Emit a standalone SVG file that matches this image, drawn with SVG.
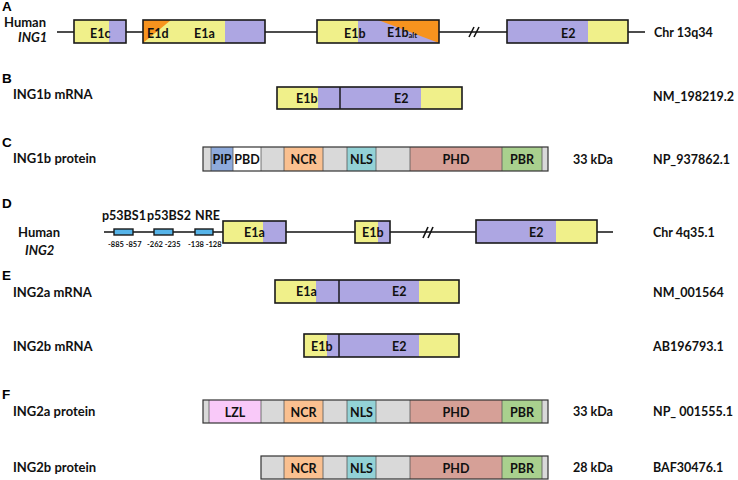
<svg xmlns="http://www.w3.org/2000/svg" width="738" height="480" viewBox="0 0 738 480">
<style>
.t{font-family:Lato,"Liberation Sans",sans-serif;font-weight:bold;font-size:12.5px;fill:#111}
.l{font-family:Lato,"Liberation Sans",sans-serif;font-weight:bold;font-size:13px;fill:#111}
.h{font-family:"Liberation Sans",Arial,sans-serif;font-weight:bold;font-size:13.5px;fill:#000}
.s{font-family:Lato,"Liberation Sans",sans-serif;font-weight:bold;font-size:7.5px;fill:#111}
.m{text-anchor:middle}
.y{fill:#f0f08a}
.p{fill:#ada6e2}
.o{fill:#f7931e}
.g{fill:#d9d9d9}
.box{fill:none;stroke:#1a1a1a;stroke-width:1.6}
.pb{fill:none;stroke:#333;stroke-width:1.2}
.sep{stroke:#555;stroke-width:0.8}
.ln{stroke:#111;stroke-width:1.6;fill:none}
.div{stroke:#111;stroke-width:1.4}
.bs{fill:#56b4e9;stroke:#1a1a1a;stroke-width:1.4}
</style>

<!-- connectors: genomic lines and break marks -->
<g id="connectors">
  <line class="ln" x1="57" y1="32" x2="645" y2="32"/>
  <line class="ln" x1="469" y1="37" x2="474" y2="27"/>
  <line class="ln" x1="474" y1="37" x2="479" y2="27"/>
  <line class="ln" x1="104" y1="232" x2="613" y2="232"/>
  <line class="ln" x1="423" y1="238" x2="428" y2="227"/>
  <line class="ln" x1="428" y1="238" x2="433" y2="227"/>
</g>

<!-- panel letters and row labels -->
<g id="labels">
  <text class="h" x="2" y="10.5">A</text>
  <text class="h" x="2" y="83">B</text>
  <text class="h" x="2" y="147">C</text>
  <text class="h" x="2" y="208">D</text>
  <text class="h" x="2" y="280">E</text>
  <text class="h" x="2" y="399">F</text>
  <text class="l" x="4" y="26.5">Human</text>
  <text class="l" x="18" y="42" font-style="italic">ING1</text>
  <text class="l" x="13" y="99">ING1b mRNA</text>
  <text class="l" x="13" y="163">ING1b protein</text>
  <text class="l" x="18" y="237">Human</text>
  <text class="l" x="25" y="255" font-style="italic">ING2</text>
  <text class="l" x="13" y="297">ING2a mRNA</text>
  <text class="l" x="13" y="351">ING2b mRNA</text>
  <text class="l" x="13" y="416">ING2a protein</text>
  <text class="l" x="13" y="472">ING2b protein</text>
  <text class="t" x="654" y="37">Chr 13q34</text>
  <text class="t" x="653" y="101">NM_198219.2</text>
  <text class="t" x="573" y="164">33 kDa</text>
  <text class="t" x="653" y="164">NP_937862.1</text>
  <text class="t" x="653" y="237">Chr 4q35.1</text>
  <text class="t" x="653" y="297">NM_001564</text>
  <text class="t" x="653" y="351">AB196793.1</text>
  <text class="t" x="573" y="416">33 kDa</text>
  <text class="t" x="653" y="416">NP_ 001555.1</text>
  <text class="t" x="573" y="472">28 kDa</text>
  <text class="t" x="653" y="472">BAF30476.1</text>
</g>

<!-- A: ING1 gene -->
<g id="ing1-e1c">
  <rect class="y" x="74" y="20" width="35" height="23"/>
  <rect class="p" x="109" y="20" width="17" height="23"/>
  <rect class="box" x="74" y="20" width="52" height="23"/>
  <text class="t" x="90" y="37.5">E1c</text>
</g>
<g id="ing1-e1d-e1a">
  <rect class="y" x="143" y="20" width="82" height="23"/>
  <rect class="p" x="225" y="20" width="40" height="23"/>
  <polygon class="o" points="143,20 171,20 143,43"/>
  <rect class="box" x="143" y="20" width="122" height="23"/>
  <text class="t" x="147" y="37.5">E1d</text>
  <text class="t" x="194" y="37.5">E1a</text>
</g>
<g id="ing1-e1b">
  <rect class="y" x="317" y="20" width="41" height="23"/>
  <rect class="p" x="358" y="20" width="81" height="23"/>
  <polygon class="o" points="378,20 439,20 439,43"/>
  <rect class="box" x="317" y="20" width="122" height="23"/>
  <text class="t" x="344" y="37.5">E1b</text>
  <text class="t" x="387" y="37">E1b<tspan font-size="7.5" dy="1">alt</tspan></text>
</g>
<g id="ing1-e2">
  <rect class="p" x="507" y="20" width="81" height="23"/>
  <rect class="y" x="588" y="20" width="40" height="23"/>
  <rect class="box" x="507" y="20" width="121" height="23"/>
  <text class="t" x="561" y="37.5">E2</text>
</g>

<!-- B: ING1b mRNA -->
<g id="ing1b-mrna">
  <rect class="y" x="277" y="87" width="41" height="22"/>
  <rect class="p" x="318" y="87" width="103" height="22"/>
  <rect class="y" x="421" y="87" width="41" height="22"/>
  <line class="div" x1="340" y1="87" x2="340" y2="109"/>
  <rect class="box" x="277" y="87" width="185" height="22"/>
  <text class="t" x="296" y="103">E1b</text>
  <text class="t" x="394" y="103">E2</text>
</g>

<!-- C: ING1b protein -->
<g id="ing1b-protein">
  <rect class="g" x="203" y="147" width="345" height="24"/>
  <rect fill="#8eaadb" x="211" y="147" width="22" height="24"/>
  <rect fill="#ffffff" x="233" y="147" width="28" height="24"/>
  <rect fill="#fac090" x="284" y="147" width="39" height="24"/>
  <rect fill="#93d2d6" x="347" y="147" width="29" height="24"/>
  <rect fill="#d6a097" x="410" y="147" width="92" height="24"/>
  <rect fill="#a9d08e" x="502" y="147" width="40" height="24"/>
  <g class="sep">
    <line x1="211" y1="147" x2="211" y2="171"/><line x1="233" y1="147" x2="233" y2="171"/>
    <line x1="261" y1="147" x2="261" y2="171"/><line x1="284" y1="147" x2="284" y2="171"/>
    <line x1="323" y1="147" x2="323" y2="171"/><line x1="347" y1="147" x2="347" y2="171"/>
    <line x1="376" y1="147" x2="376" y2="171"/><line x1="410" y1="147" x2="410" y2="171"/>
    <line x1="502" y1="147" x2="502" y2="171"/><line x1="542" y1="147" x2="542" y2="171"/>
  </g>
  <rect class="pb" x="203" y="147" width="345" height="24"/>
  <text class="t m" x="222" y="164">PIP</text>
  <text class="t m" x="247" y="164">PBD</text>
  <text class="t m" x="303.5" y="164">NCR</text>
  <text class="t m" x="361.5" y="164">NLS</text>
  <text class="t m" x="456" y="164">PHD</text>
  <text class="t m" x="522" y="164">PBR</text>
</g>

<!-- D: ING2 gene -->
<g id="ing2-promoter">
  <rect class="bs" x="114" y="229" width="19" height="6"/>
  <rect class="bs" x="154" y="229" width="19" height="6"/>
  <rect class="bs" x="195" y="229" width="18" height="6"/>
  <text class="t" x="102" y="220" font-size="11">p53BS1</text>
  <text class="t" x="147" y="220" font-size="11">p53BS2</text>
  <text class="t" x="195" y="220" font-size="11">NRE</text>
  <text class="s" x="108" y="247">-885 -857</text>
  <text class="s" x="147" y="247">-262 -235</text>
  <text class="s" x="188" y="247">-138 -128</text>
</g>
<g id="ing2-e1a">
  <rect class="y" x="223" y="221" width="40" height="22"/>
  <rect class="p" x="263" y="221" width="23" height="22"/>
  <rect class="box" x="223" y="221" width="63" height="22"/>
  <text class="t" x="244" y="237">E1a</text>
</g>
<g id="ing2-e1b">
  <rect class="y" x="355" y="221" width="23" height="22"/>
  <rect class="p" x="378" y="221" width="12" height="22"/>
  <rect class="box" x="355" y="221" width="35" height="22"/>
  <text class="t" x="362" y="237">E1b</text>
</g>
<g id="ing2-e2">
  <rect class="p" x="476" y="220" width="80" height="23"/>
  <rect class="y" x="556" y="220" width="41" height="23"/>
  <rect class="box" x="476" y="220" width="121" height="23"/>
  <text class="t" x="529" y="237">E2</text>
</g>

<!-- E: ING2 mRNAs -->
<g id="ing2a-mrna">
  <rect class="y" x="275" y="280" width="41" height="23"/>
  <rect class="p" x="316" y="280" width="103" height="23"/>
  <rect class="y" x="419" y="280" width="40" height="23"/>
  <line class="div" x1="339" y1="280" x2="339" y2="303"/>
  <rect class="box" x="275" y="280" width="184" height="23"/>
  <text class="t" x="296" y="296">E1a</text>
  <text class="t" x="392" y="296">E2</text>
</g>
<g id="ing2b-mrna">
  <rect class="y" x="304" y="334" width="23" height="23"/>
  <rect class="p" x="327" y="334" width="92" height="23"/>
  <rect class="y" x="419" y="334" width="40" height="23"/>
  <line class="div" x1="339" y1="334" x2="339" y2="357"/>
  <rect class="box" x="304" y="334" width="155" height="23"/>
  <text class="t" x="311" y="351">E1b</text>
  <text class="t" x="392" y="351">E2</text>
</g>

<!-- F: ING2 proteins -->
<g id="ing2a-protein">
  <rect class="g" x="203" y="400" width="345" height="23"/>
  <rect fill="#f9c9f9" x="209" y="400" width="52" height="23"/>
  <rect fill="#fac090" x="284" y="400" width="39" height="23"/>
  <rect fill="#93d2d6" x="347" y="400" width="29" height="23"/>
  <rect fill="#d6a097" x="410" y="400" width="92" height="23"/>
  <rect fill="#a9d08e" x="502" y="400" width="40" height="23"/>
  <g class="sep">
    <line x1="209" y1="400" x2="209" y2="423"/><line x1="261" y1="400" x2="261" y2="423"/>
    <line x1="284" y1="400" x2="284" y2="423"/><line x1="323" y1="400" x2="323" y2="423"/>
    <line x1="347" y1="400" x2="347" y2="423"/><line x1="376" y1="400" x2="376" y2="423"/>
    <line x1="410" y1="400" x2="410" y2="423"/><line x1="502" y1="400" x2="502" y2="423"/>
    <line x1="542" y1="400" x2="542" y2="423"/>
  </g>
  <rect class="pb" x="203" y="400" width="345" height="23"/>
  <text class="t m" x="235" y="416.5">LZL</text>
  <text class="t m" x="303.5" y="416.5">NCR</text>
  <text class="t m" x="361.5" y="416.5">NLS</text>
  <text class="t m" x="456" y="416.5">PHD</text>
  <text class="t m" x="522" y="416.5">PBR</text>
</g>
<g id="ing2b-protein">
  <rect class="g" x="261" y="456" width="287" height="23"/>
  <rect fill="#fac090" x="284" y="456" width="39" height="23"/>
  <rect fill="#93d2d6" x="347" y="456" width="29" height="23"/>
  <rect fill="#d6a097" x="410" y="456" width="92" height="23"/>
  <rect fill="#a9d08e" x="502" y="456" width="40" height="23"/>
  <g class="sep">
    <line x1="284" y1="456" x2="284" y2="479"/><line x1="323" y1="456" x2="323" y2="479"/>
    <line x1="347" y1="456" x2="347" y2="479"/><line x1="376" y1="456" x2="376" y2="479"/>
    <line x1="410" y1="456" x2="410" y2="479"/><line x1="502" y1="456" x2="502" y2="479"/>
    <line x1="542" y1="456" x2="542" y2="479"/>
  </g>
  <rect class="pb" x="261" y="456" width="287" height="23"/>
  <text class="t m" x="303.5" y="472.5">NCR</text>
  <text class="t m" x="361.5" y="472.5">NLS</text>
  <text class="t m" x="456" y="472.5">PHD</text>
  <text class="t m" x="522" y="472.5">PBR</text>
</g>
</svg>
